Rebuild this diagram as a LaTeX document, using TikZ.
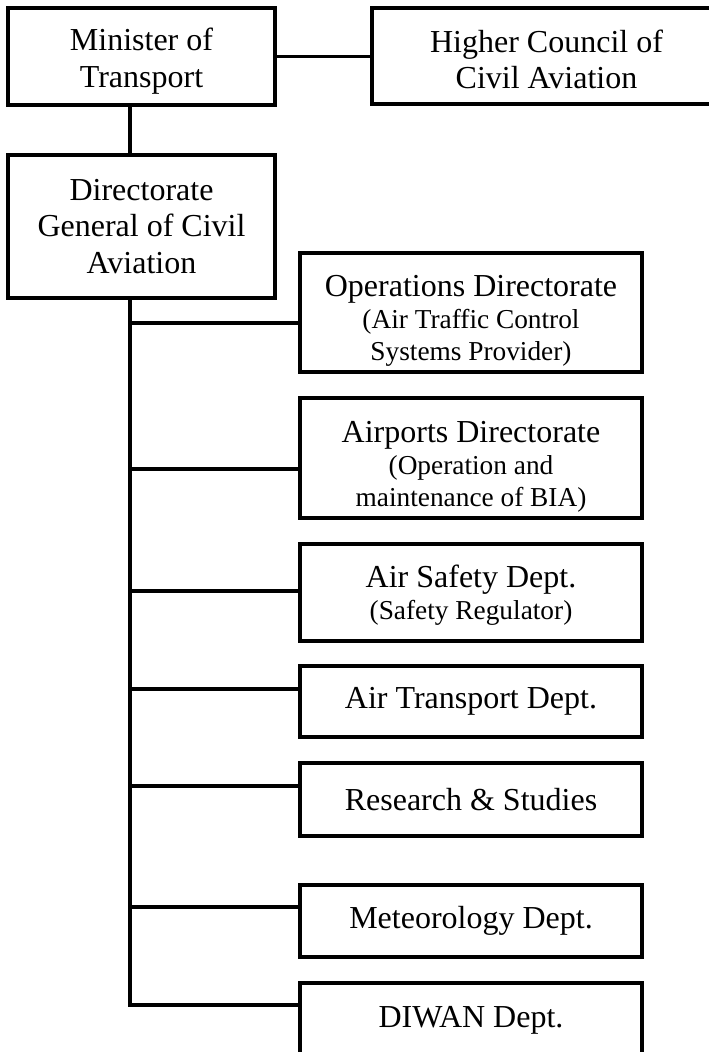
\documentclass[tikz,border=0pt]{standalone}
\usepackage{fontspec}
\setmainfont{Liberation Serif}

\newcommand{\subline}[1]{{\fontsize{20.5}{24}\selectfont #1}}
\newcommand{\sinkby}[1]{\rule{0pt}{#1}}

\begin{document}
\begin{tikzpicture}[x=0.75pt,y=-0.75pt]
\tikzset{box/.style={draw, line width=2.4pt, align=center, inner sep=0pt, font=\fontsize{24}{27.5}\selectfont}}
\tikzset{dept/.style={box, minimum width=256.5pt, font=\fontsize{24}{24}\selectfont}}
\tikzset{conn/.style={line width=2.4pt}}

\useasboundingbox (0,0) rectangle (709,1052);
\clip (0,0) rectangle (709,1052);

\node[box, minimum width=200.25pt, minimum height=72.75pt] (minister) at (141.5,56.5) {\sinkby{24pt}Minister of\\Transport};
\node[box, minimum width=261.75pt, minimum height=72pt] (council) at (546.5,56) {\sinkby{22pt}Higher Council of\\Civil Aviation};
\node[box, minimum width=200.25pt, minimum height=107.25pt] (dg) at (141.5,226.5) {Directorate\\General of Civil\\Aviation};

\node[dept, minimum height=89.25pt] (ops) at (471,312.5) {\sinkby{28.5pt}Operations Directorate\\\subline{(Air Traffic Control}\\\subline{Systems Provider)}};
\node[dept, minimum height=90pt] (airports) at (471,458) {\sinkby{28.5pt}Airports Directorate\\\subline{(Operation and}\\\subline{maintenance of BIA)}};
\node[dept, minimum height=72.75pt] (safety) at (471,592.5) {\sinkby{21pt}Air Safety Dept.\\\subline{(Safety Regulator)}};
\node[dept, minimum height=53.25pt] (transport) at (471,701.5) {Air Transport Dept.};
\node[dept, minimum height=54.75pt] (research) at (471,799.5) {Research \& Studies};
\node[dept, minimum height=54pt] (meteo) at (471,921) {Meteorology Dept.};
\node[dept, minimum height=56.25pt] (diwan) at (471,1020.5) {DIWAN Dept.};

% joints on the trunk
\coordinate (j-ops) at (130,323);
\coordinate (j-airports) at (130,469);
\coordinate (j-safety) at (130,591);
\coordinate (j-transport) at (130,689);
\coordinate (j-research) at (130,786);
\coordinate (j-meteo) at (130,907);
\coordinate (j-diwan) at (130,1005);

\draw[conn] (minister.east) -- (council.west |- minister.east);
\draw[conn] (minister.south -| j-ops) -- (dg.north -| j-ops);
\draw[conn, line join=miter] (dg.south -| j-ops) -- (j-diwan) -- (j-diwan -| diwan.west);

\draw[conn] (j-ops) -- (j-ops -| ops.west);
\draw[conn] (j-airports) -- (j-airports -| airports.west);
\draw[conn] (j-safety) -- (j-safety -| safety.west);
\draw[conn] (j-transport) -- (j-transport -| transport.west);
\draw[conn] (j-research) -- (j-research -| research.west);
\draw[conn] (j-meteo) -- (j-meteo -| meteo.west);

\end{tikzpicture}
\end{document}
